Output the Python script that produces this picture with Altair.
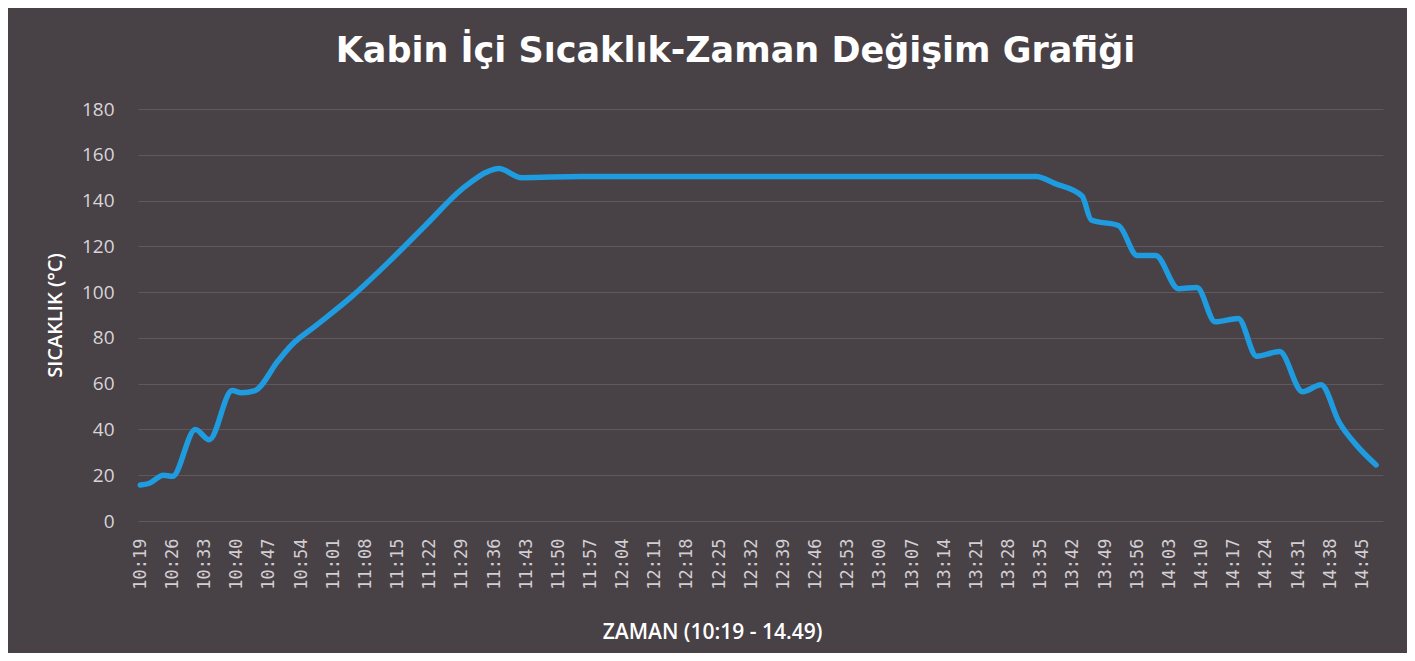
import altair as alt
import pandas as pd

# Measured key points of the curve (clock time, °C)
times = ["10:19", "10:21", "10:24", "10:26", "10:31", "10:34", "10:39", "10:41",
         "10:44", "10:49", "10:52", "10:57", "11:05", "11:13", "11:21", "11:29",
         "11:35", "11:37", "11:42", "11:55", "13:34", "13:38", "13:44", "13:46",
         "13:52", "13:56", "14:00", "14:05", "14:09", "14:13", "14:18", "14:22",
         "14:27", "14:32", "14:36", "14:40", "14:44", "14:48"]
temps = [15.7, 16.5, 20.0, 19.5, 40.0, 35.5, 57.0, 56.0,
         57.0, 70.0, 77.0, 85.0, 98.0, 113.0, 129.0, 145.0,
         153.0, 154.0, 150.0, 150.5, 150.5, 147.5, 142.0, 131.5,
         129.0, 116.0, 116.0, 101.5, 102.0, 87.0, 88.5, 72.0,
         74.0, 56.5, 59.5, 43.0, 32.5, 24.5]

tick_labels = ["10:19", "10:26", "10:33", "10:40", "10:47", "10:54", "11:01", "11:08",
               "11:15", "11:22", "11:29", "11:36", "11:43", "11:50", "11:57", "12:04",
               "12:11", "12:18", "12:25", "12:32", "12:39", "12:46", "12:53", "13:00",
               "13:07", "13:14", "13:21", "13:28", "13:35", "13:42", "13:49", "13:56",
               "14:03", "14:10", "14:17", "14:24", "14:31", "14:38", "14:45"]
y_ticks = [0, 20, 40, 60, 80, 100, 120, 140, 160, 180]

title_text = "Kabin İçi Sıcaklık-Zaman Değişim Grafiği"
x_title = "ZAMAN (10:19 - 14.49)"
y_title = "SICAKLIK (°C)"


def to_min(s):
    h, m = s.split(":")
    return int(h) * 60 + int(m)


start = to_min(times[0])
df = pd.DataFrame({"dk": [to_min(t) - start for t in times], "sicaklik": temps})
tick_vals = [to_min(t) - start for t in tick_labels]
label_arr = "[" + ",".join("'" + t + "'" for t in tick_labels) + "]"

bg = "#484146"

chart = alt.Chart(df).mark_line(
    color="#1f9be0", strokeWidth=5.5, interpolate="monotone", strokeCap="round", strokeJoin="round"
).encode(
    x=alt.X("dk:Q",
            scale=alt.Scale(domain=[-0.5, 270.5], nice=False, zero=False),
            axis=alt.Axis(values=tick_vals, labelExpr=label_arr + "[round(datum.value/7)]",
                          labelAngle=270, labelFont="DejaVu Sans Mono", labelFontSize=17,
                          labelColor="#d2ced2", ticks=False, domain=False, grid=False,
                          labelPadding=17, labelOverlap=False,
                          title=x_title, titleFont="Open Sans", titleFontSize=21,
                          titleFontWeight=600, titleColor="#ffffff",
                          titleX=574, titleY=111, titleAlign="center", titleBaseline="middle")),
    y=alt.Y("sicaklik:Q",
            scale=alt.Scale(domain=[0, 180], nice=False),
            axis=alt.Axis(values=y_ticks, labelFont="Open Sans", labelFontSize=19,
                          labelColor="#d8d4d8", ticks=False, domain=False,
                          grid=True, gridColor="#5f585e", gridWidth=1.2,
                          labelPadding=24,
                          title=y_title, titleFont="Open Sans", titleFontSize=20,
                          titleFontWeight=600, titleColor="#ffffff", titleAngle=270,
                          titleX=-83, titleY=206, titleAlign="center", titleBaseline="middle")),
).properties(
    width=1245,
    height=412,
    autosize=alt.AutoSizeParams(type="none"),
    padding={"left": 130, "top": 101, "right": 24, "bottom": 132},
    background=bg,
    title=alt.TitleParams(title_text, font="DejaVu Sans", fontSize=35, fontWeight="bold",
                          color="#ffffff", anchor="middle", dx=-25, offset=31),
).configure_view(stroke=None)

chart.save("out.html", embed_options={"renderer": "svg", "actions": False})
